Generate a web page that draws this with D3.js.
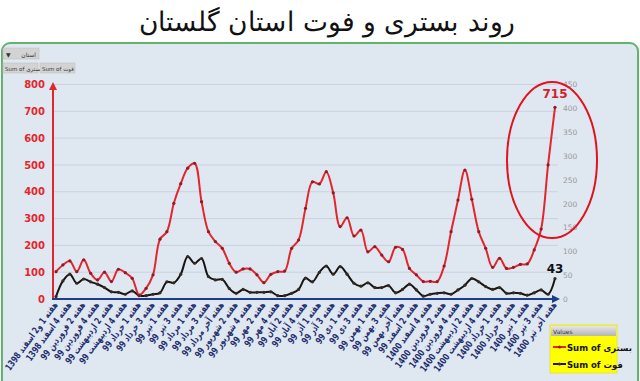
<!DOCTYPE html>
<html><head><meta charset="utf-8">
<script src="https://cdn.jsdelivr.net/npm/d3@7"></script>
<style>
html,body{margin:0;padding:0;background:#fff;}
svg{display:block;}
</style></head>
<body>
<svg id="chart" width="640" height="381"></svg>
<script>
// ---- data ----
const title = "روند بستری و فوت استان گلستان";
const hospitalized = [102,127,142,102,146,96,71,100,65,111,98,77,15,40,90,223,251,357,430,488,506,363,251,214,189,133,100,112,112,90,61,92,102,104,189,220,338,437,429,475,396,270,303,235,257,176,195,164,139,193,185,114,90,65,66,65,123,251,369,481,372,251,189,118,152,114,118,129,131,183,261,500,715];
const deaths = [5,38,52,33,42,36,31,24,15,14,10,17,7,7,10,13,36,34,52,89,75,85,47,40,41,22,12,20,14,14,14,15,7,7,12,20,44,36,56,69,52,68,52,33,27,34,24,24,28,13,20,31,19,6,10,12,13,10,19,29,43,36,26,20,24,12,13,12,8,13,19,10,43];
const tickLabels = ["هفته 1 و2 اسفند 1398","هفته 4 اسفند 1398","هفته 2 فروردین 99","هفته 4 فروردین 99","هفته 2 اردیبهشت 99","هفته 4 اردیبهشت 99","هفته 1 خرداد 99","هفته 3 خرداد 99","هفته 1 تیر 99","هفته 3 تیر 99","هفته 1 مرداد 99","هفته 3 مرداد 99","هفته آخر مرداد 99","هفته 2 شهریور 99","هفته 4 شهریور 99","هفته 2 مهر 99","هفته 4 مهر 99","هفته 2 آبان 99","هفته 4 آبان 99","هفته 1 آذر 99","هفته 3 آذر 99","هفته 1 دی 99","هفته 3 دی 99","هفته 1 بهمن 99","هفته 3 بهمن 99","هفته آخر بهمن 99","هفته 2 اسفند 99","هفته 4 اسفند 1400","هفته 2 فروردین 1400","هفته 4 فروردین 1400","هفته 2 اردیبهشت 1400","هفته 4 اردیبهشت 1400","هفته 1 خرداد 1400","هفته 3 خرداد 1400","هفته 1 تیر 1400","هفته 3 تیر 1400","هفته آخر تیر 1400"];
const leftTicks = [0,100,200,300,400,500,600,700,800];
const rightTicks = [0,50,100,150,200,250,300,350,400,450];
const seriesNames = ["Sum of بستری","Sum of فوت"];
const filterLabel = "استان";

// ---- drawing ----
const svg = d3.select("#chart");
const FONT = "'DejaVu Sans', sans-serif";
const idx = d3.range(hospitalized.length);

// backgrounds
svg.append("rect").attr("x",0).attr("y",0).attr("width",640).attr("height",381).attr("fill","#ffffff");
svg.append("rect").attr("x",2).attr("y",43).attr("width",636).attr("height",345).attr("rx",8)
  .attr("fill","#dfe7f1").attr("stroke","#5fb56b").attr("stroke-width",2);

// title
svg.append("text").attr("transform","translate(327,31) scale(0.98,1)").attr("text-anchor","middle")
  .attr("font-family","'DejaVu Sans ExtraLight','DejaVu Sans',sans-serif").attr("font-size",27).attr("font-weight",200).attr("fill","#111")
  .text(title);

const x = d3.scalePoint().domain(idx).range([56,555]);
const yL = d3.scaleLinear().domain([0,800]).range([299,84.5]);
const yR = d3.scaleLinear().domain([0,450]).range([299,84.5]);

// defs: arrows
const defs = svg.append("defs");
defs.append("marker").attr("id","arrRed").attr("viewBox","0 0 10 10").attr("refX",5).attr("refY",5)
  .attr("markerWidth",4).attr("markerHeight",4).attr("orient","auto")
  .append("path").attr("d","M0,0L10,5L0,10z").attr("fill","#e3262e");
defs.append("marker").attr("id","arrBlue").attr("viewBox","0 0 10 10").attr("refX",5).attr("refY",5)
  .attr("markerWidth",4).attr("markerHeight",4).attr("orient","auto")
  .append("path").attr("d","M0,0L10,5L0,10z").attr("fill","#1f3c88");
const lg = defs.append("linearGradient").attr("id","hdr").attr("x1",0).attr("y1",0).attr("x2",0).attr("y2",1);
lg.append("stop").attr("offset","0%").attr("stop-color","#e6e6e6");
lg.append("stop").attr("offset","100%").attr("stop-color","#b5b5b5");

// gridlines
svg.append("g").selectAll("line").data(leftTicks.slice(1)).join("line")
  .attr("x1",53).attr("x2",558).attr("y1",d=>yL(d)).attr("y2",d=>yL(d))
  .attr("stroke","#c9d2de").attr("stroke-width",1);

// left axis labels
const gL = svg.append("g").attr("transform","translate(47,0)")
  .call(d3.axisLeft(yL).tickValues(leftTicks).tickSize(0).tickPadding(2));
gL.select(".domain").remove();
gL.selectAll("text").attr("font-family",FONT).attr("font-size",10).attr("font-weight","bold").attr("fill","#e3262e");

// right axis labels
const gR = svg.append("g").attr("transform","translate(561,0)")
  .call(d3.axisRight(yR).tickValues(rightTicks).tickSize(0).tickPadding(2));
gR.select(".domain").remove();
gR.selectAll("text").attr("font-family",FONT).attr("font-size",7.5).attr("fill","#9a9a9a");

// axis lines
svg.append("line").attr("x1",53).attr("x2",53).attr("y1",300).attr("y2",86)
  .attr("stroke","#e3262e").attr("stroke-width",2).attr("marker-end","url(#arrRed)");
svg.append("line").attr("x1",52).attr("x2",556).attr("y1",299).attr("y2",299)
  .attr("stroke","#1f3c88").attr("stroke-width",2).attr("marker-end","url(#arrBlue)");

// x labels
const gX = svg.append("g");
gX.selectAll("text").data(tickLabels).join("text")
  .attr("transform",(d,i)=>`translate(${x(i*2)+2},305) rotate(-54) scale(0.74,1)`)
  .attr("text-anchor","end").attr("font-family",FONT).attr("font-size",9.5).attr("font-weight","bold")
  .attr("fill","#1f2f6e").text(d=>d);

// lines
const lineL = d3.line().x((d,i)=>x(i)).y(d=>yL(d)).curve(d3.curveCatmullRom.alpha(0.5));
const lineR = d3.line().x((d,i)=>x(i)).y(d=>yR(d)).curve(d3.curveCatmullRom.alpha(0.5));
svg.append("path").datum(deaths).attr("d",lineR).attr("fill","none").attr("stroke","#151515").attr("stroke-width",2);
svg.append("g").selectAll("circle").data(deaths).join("circle")
  .attr("cx",(d,i)=>x(i)).attr("cy",d=>yR(d)).attr("r",1.6).attr("fill","#3a2a1a");
svg.append("path").datum(hospitalized).attr("d",lineL).attr("fill","none").attr("stroke","#e3262e").attr("stroke-width",2);
svg.append("g").selectAll("circle").data(hospitalized).join("circle")
  .attr("cx",(d,i)=>x(i)).attr("cy",d=>yL(d)).attr("r",1.6).attr("fill","#8e1b2a");

// annotations
const last = idx.length-1;
svg.append("text").attr("x",x(last)).attr("y",yL(hospitalized[last])-9).attr("text-anchor","middle")
  .attr("font-family",FONT).attr("font-size",12).attr("font-weight","bold").attr("fill","#d4202c").text(hospitalized[last]);
svg.append("text").attr("x",x(last)).attr("y",yR(deaths[last])-6).attr("text-anchor","middle")
  .attr("font-family",FONT).attr("font-size",12).attr("font-weight","bold").attr("fill","#111").text(deaths[last]);
svg.append("ellipse").attr("cx",552).attr("cy",160).attr("rx",45).attr("ry",78)
  .attr("fill","none").attr("stroke","#e0141e").attr("stroke-width",2);

// top-left pivot buttons
svg.append("rect").attr("x",3).attr("y",48).attr("width",36).attr("height",11).attr("fill","#d3d3d3").attr("stroke","#bbb").attr("stroke-width",0.5);
svg.append("text").attr("x",6).attr("y",56.5).attr("font-family",FONT).attr("font-size",6).attr("fill","#333").text("▼");
svg.append("text").attr("x",36).attr("y",56.5).attr("text-anchor","end").attr("font-family",FONT).attr("font-size",6).attr("fill","#333").text(filterLabel);
const btn = svg.append("g").selectAll("g").data(seriesNames).join("g")
  .attr("transform",(d,i)=>`translate(${3+i*37},63)`);
btn.append("rect").attr("width",35).attr("height",10).attr("fill","#d3d3d3").attr("stroke","#bbb").attr("stroke-width",0.5);
btn.append("text").attr("x",2).attr("y",7.5).attr("font-family",FONT).attr("font-size",5.5).attr("fill","#333").text(d=>d);

// legend
const leg = svg.append("g").attr("transform","translate(550,325)");
leg.append("rect").attr("width",67).attr("height",48).attr("fill","#ffff00").attr("stroke","#d8d800").attr("stroke-width",0.5);
leg.append("rect").attr("x",1).attr("y",1).attr("width",65).attr("height",10).attr("fill","url(#hdr)");
leg.append("text").attr("x",3).attr("y",8.5).attr("font-family",FONT).attr("font-size",6).attr("fill","#333").text("Values");
const colors = ["#e3262e","#151515"];
const items = leg.selectAll("g.it").data(seriesNames).join("g").attr("class","it")
  .attr("transform",(d,i)=>`translate(0,${22+i*17})`);
items.append("line").attr("x1",3).attr("x2",16).attr("stroke",(d,i)=>colors[i]).attr("stroke-width",2);
items.append("circle").attr("cx",9.5).attr("r",1.6).attr("fill",(d,i)=>i?"#3a2a1a":"#8e1b2a");
items.append("text").attr("x",17).attr("y",3.5).attr("font-family",FONT).attr("font-size",8.5).attr("font-weight","bold").attr("fill","#111").text(d=>d);
</script>
</body></html>
